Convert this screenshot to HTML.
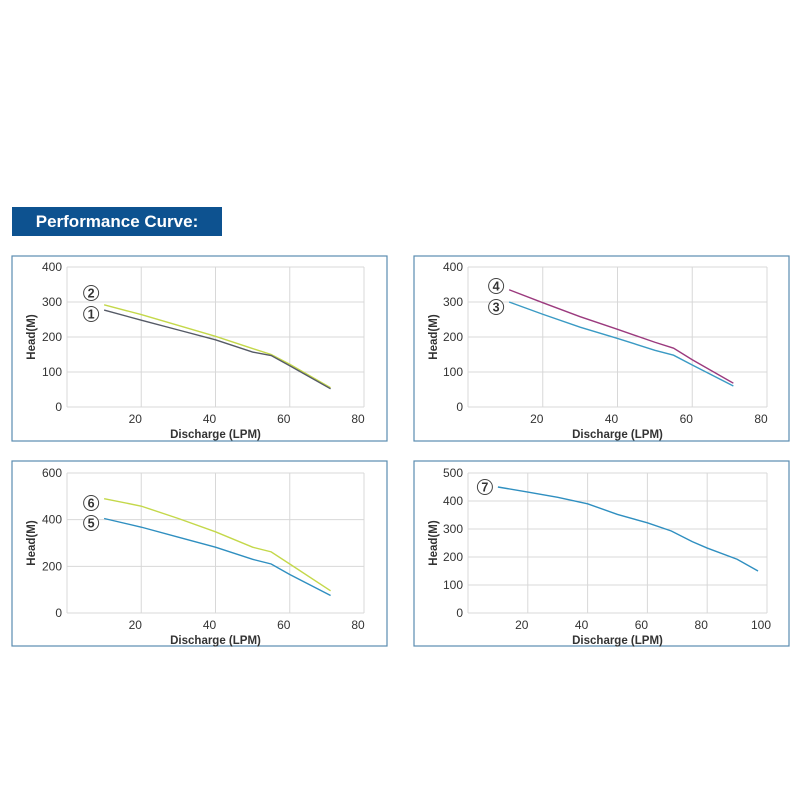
<!DOCTYPE html>
<html><head><meta charset="utf-8"><style>
body{margin:0;background:#fff;width:800px;height:800px;overflow:hidden}
svg{display:block;font-family:"Liberation Sans",Arial,sans-serif}
</style></head><body>
<svg id="s" width="800" height="800" xmlns="http://www.w3.org/2000/svg">
<rect x="12" y="207" width="210" height="29" fill="#0d5290"/>
<text x="117" y="227" fill="#fff" font-size="17" font-weight="bold" text-anchor="middle">Performance Curve:</text>
</svg>
<script>
const s=document.getElementById('s');const NS='http://www.w3.org/2000/svg';
function el(t,a,txt){const e=document.createElementNS(NS,t);for(const k in a)e.setAttribute(k,a[k]);if(txt!==undefined)e.textContent=txt;s.appendChild(e);return e;}
function panel(p){
 el('rect',{x:p.bx,y:p.by,width:375,height:185,fill:'none',stroke:'#5b8db0','stroke-width':1.2});
 const X=v=>p.L+(v/p.xmax)*(p.R-p.L), Y=v=>p.B-(v/p.ymax)*(p.B-p.T);
 for(let v=0;v<=p.ymax;v+=p.ys){el('line',{x1:p.L,x2:p.R,y1:Y(v),y2:Y(v),stroke:'#d8d8d8'});
  el('text',{x:p.L-5,y:Y(v)+4,'font-size':12,fill:'#333','text-anchor':'end'},v);}
 el('line',{x1:p.L,x2:p.L,y1:p.T,y2:p.B,stroke:'#d8d8d8'});
 for(let v=20;v<=p.xmax;v+=20){el('line',{x1:X(v),x2:X(v),y1:p.T,y2:p.B,stroke:'#d8d8d8'});
  el('text',{x:X(v)-6,y:p.B+16,'font-size':12,fill:'#333','text-anchor':'middle'},v);}
 el('text',{x:(p.L+p.R)/2,y:p.B+31,'font-size':11.5,'font-weight':'bold',fill:'#333','text-anchor':'middle'},'Discharge (LPM)');
 const yl=(p.T+p.B)/2;
 el('text',{x:p.bx+23,y:yl,'font-size':11.5,'font-weight':'bold',fill:'#333','text-anchor':'middle',transform:`rotate(-90 ${p.bx+23} ${yl})`},'Head(M)');
 p.curves.forEach(c=>{
  el('polyline',{points:c.pts.map(q=>X(q[0])+','+Y(q[1])).join(' '),fill:'none',stroke:c.col,'stroke-width':1.4});
  const cx=X(c.pts[0][0])-13, cy=c.ly!==undefined?c.ly:Y(c.pts[0][1]);
  el('circle',{cx:cx,cy:cy,r:7.5,fill:'#fff',stroke:'#444','stroke-width':1});
  el('text',{x:cx,y:cy+4.5,'font-size':12.5,'font-weight':'bold',fill:'#333','text-anchor':'middle'},c.n);
 });
}
panel({bx:12,by:256,L:67,R:364,T:267,B:407,xmax:80,ymax:400,ys:100,curves:[
 {n:2,col:'#c4d84a',ly:293,pts:[[10,292],[20,264],[30,233],[40,202],[50,167],[55,150],[60,122],[71,55]]},
 {n:1,col:'#555a66',ly:314,pts:[[10,277],[20,248],[30,220],[40,192],[50,157],[55,147],[60,118],[71,52]]}]});
panel({bx:414,by:256,L:468,R:767,T:267,B:407,xmax:80,ymax:400,ys:100,curves:[
 {n:4,col:'#9b3a7e',ly:286,pts:[[11,335],[20,298],[30,258],[40,222],[50,185],[55,168],[60,135],[71,68]]},
 {n:3,col:'#3a9ac4',ly:307,pts:[[11,300],[20,265],[30,228],[40,196],[50,162],[55,148],[60,120],[71,60]]}]});
panel({bx:12,by:461,L:67,R:364,T:473,B:613,xmax:80,ymax:600,ys:200,curves:[
 {n:6,col:'#c4d84a',ly:503,pts:[[10,490],[20,458],[30,405],[40,348],[50,282],[55,262],[60,210],[71,95]]},
 {n:5,col:'#2f8fc0',ly:523,pts:[[10,405],[20,368],[30,325],[40,282],[50,230],[55,210],[60,165],[71,75]]}]});
panel({bx:414,by:461,L:468,R:767,T:473,B:613,xmax:100,ymax:500,ys:100,curves:[
 {n:7,col:'#2f8fc0',ly:487,pts:[[10,450],[20,432],[30,413],[40,390],[50,352],[60,322],[68,293],[75,255],[80,232],[90,192],[97,150]]}]});
</script>
</body></html>
